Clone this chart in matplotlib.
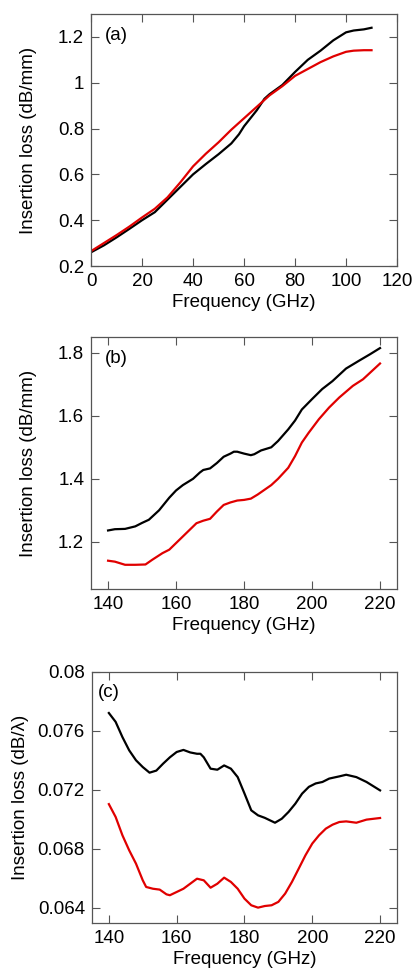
import matplotlib
matplotlib.use("Agg")
import matplotlib.pyplot as plt

plt.rcParams['font.family'] = ['Liberation Sans', 'DejaVu Sans']

# (a) 0-110 GHz, dB/mm
freq_a = [0, 5, 10, 15, 20, 25, 30, 35, 40, 45, 50, 55, 58, 60, 65, 68, 70, 75,
          80, 85, 90, 95, 100, 103, 107, 110]
black_a = [0.26, 0.29, 0.325, 0.362, 0.40, 0.435, 0.49, 0.545, 0.60, 0.645, 0.688,
           0.735, 0.775, 0.81, 0.88, 0.93, 0.95, 0.99, 1.047, 1.10, 1.14, 1.185,
           1.22, 1.228, 1.233, 1.24]
red_a = [0.265, 0.30, 0.335, 0.372, 0.412, 0.45, 0.50, 0.565, 0.635, 0.69, 0.74,
         0.795, 0.825, 0.845, 0.895, 0.925, 0.945, 0.985, 1.03, 1.06, 1.09, 1.115,
         1.135, 1.14, 1.142, 1.142]

# (b) 140-220 GHz, dB/mm
freq_b = [140, 142, 145, 148, 150, 152, 155, 158, 160, 162, 165, 167, 168, 170,
          172, 174, 176, 177, 178, 180, 182, 183, 185, 188, 190, 193, 195, 197,
          200, 203, 206, 210, 214, 217, 220]
black_b = [1.236, 1.240, 1.241, 1.249, 1.26, 1.27, 1.30, 1.34, 1.363, 1.38, 1.40,
           1.42, 1.428, 1.433, 1.45, 1.47, 1.48, 1.486, 1.486, 1.48, 1.475, 1.478,
           1.49, 1.50, 1.52, 1.557, 1.585, 1.62, 1.653, 1.685, 1.71, 1.75, 1.776,
           1.795, 1.815]
freq_b2 = [140, 142, 145, 148, 151, 153, 156, 158, 160, 162, 164, 166, 168, 170,
           172, 174, 176, 178, 180, 182, 184, 186, 188, 190, 193, 195, 197, 199,
           202, 205, 208, 212, 215, 218, 220]
red_b = [1.14, 1.137, 1.127, 1.127, 1.128, 1.143, 1.164, 1.175, 1.196, 1.217,
         1.238, 1.259, 1.267, 1.273, 1.296, 1.317, 1.325, 1.331, 1.333, 1.337,
         1.35, 1.365, 1.38, 1.40, 1.435, 1.472, 1.515, 1.546, 1.589, 1.626, 1.658,
         1.695, 1.716, 1.746, 1.766]

# (c) 140-220 GHz, dB/lambda
freq_c = [140, 142, 144, 146, 148, 150, 152, 154, 156, 158, 160, 162, 164, 166,
          167, 168, 170, 172, 174, 176, 178, 180, 182, 184, 186, 189, 191, 193,
          195, 197, 199, 201, 203, 205, 208, 210, 213, 216, 220]
black_c = [0.0772, 0.0766, 0.07557, 0.07467, 0.0740, 0.07354, 0.07316, 0.0733,
           0.07377, 0.0742, 0.07456, 0.0747, 0.07453, 0.07444, 0.07444, 0.0742,
           0.07343, 0.07336, 0.07365, 0.07343, 0.07286, 0.07175, 0.07061, 0.07027,
           0.0701, 0.06977, 0.07004, 0.0705, 0.07106, 0.07174, 0.0722, 0.07243,
           0.07253, 0.07276, 0.07291, 0.07302, 0.07286, 0.07253, 0.07196]
freq_c2 = [140, 142, 144, 146, 148, 150, 151, 153, 155, 157, 158, 160, 162, 164,
           166, 168, 170, 172, 174, 176, 178, 180, 182, 184, 186, 188, 190, 192,
           194, 196, 198, 200, 202, 204, 206, 208, 210, 213, 216, 220]
red_c = [0.07103, 0.07016, 0.06892, 0.0679, 0.067, 0.06587, 0.06542, 0.0653,
         0.06524, 0.06492, 0.06486, 0.06508, 0.0653, 0.06564, 0.06598, 0.06587,
         0.06537, 0.06564, 0.06605, 0.06576, 0.0653, 0.06463, 0.06418, 0.06402,
         0.06413, 0.06418, 0.06441, 0.06497, 0.06576, 0.06666, 0.06757, 0.06836,
         0.06892, 0.06937, 0.06964, 0.06982, 0.06986, 0.06977, 0.06998, 0.07009]

fig = plt.figure(figsize=(4.14, 9.73), dpi=100)
ax_a = fig.add_axes([0.220, 0.7266, 0.739, 0.259])
ax_b = fig.add_axes([0.220, 0.3946, 0.739, 0.259])
ax_c = fig.add_axes([0.222, 0.0517, 0.737, 0.258])

black = "black"
red = "#e00000"
fs = 13.5


def style(ax):
    for s in ax.spines.values():
        s.set_color("#555555")
        s.set_linewidth(0.9)
    ax.tick_params(direction="in", length=6, width=0.8, color="#555555",
                   top=True, right=True, labelsize=fs, pad=5)
    ax.set_xlabel("Frequency (GHz)", fontsize=fs, labelpad=3)


ax_a.plot(freq_a, black_a, color=black, lw=1.6)
ax_a.plot(freq_a, red_a, color=red, lw=1.6)
ax_a.set_xlim(0, 120)
ax_a.set_ylim(0.2, 1.3)
ax_a.set_xticks([0, 20, 40, 60, 80, 100, 120])
ax_a.set_yticks([0.2, 0.4, 0.6, 0.8, 1.0, 1.2])
ax_a.set_yticklabels(["0.2", "0.4", "0.6", "0.8", "1", "1.2"])
ax_a.set_ylabel("Insertion loss (dB/mm)", fontsize=fs, labelpad=15)
ax_a.text(0.045, 0.915, "(a)", transform=ax_a.transAxes, fontsize=fs, va="center")
style(ax_a)

ax_b.plot(freq_b, black_b, color=black, lw=1.6)
ax_b.plot(freq_b2, red_b, color=red, lw=1.6)
ax_b.set_xlim(135, 225)
ax_b.set_ylim(1.05, 1.85)
ax_b.set_xticks([140, 160, 180, 200, 220])
ax_b.set_yticks([1.2, 1.4, 1.6, 1.8])
ax_b.set_ylabel("Insertion loss (dB/mm)", fontsize=fs, labelpad=15)
ax_b.text(0.045, 0.915, "(b)", transform=ax_b.transAxes, fontsize=fs, va="center")
style(ax_b)

ax_c.plot(freq_c, black_c, color=black, lw=1.6)
ax_c.plot(freq_c2, red_c, color=red, lw=1.6)
ax_c.set_xlim(135, 225)
ax_c.set_ylim(0.063, 0.08)
ax_c.set_xticks([140, 160, 180, 200, 220])
ax_c.set_yticks([0.064, 0.068, 0.072, 0.076, 0.08])
ax_c.set_yticklabels(["0.064", "0.068", "0.072", "0.076", "0.08"])
ax_c.set_ylabel("Insertion loss (dB/\u03bb)", fontsize=fs, labelpad=6)
ax_c.text(0.02, 0.915, "(c)", transform=ax_c.transAxes, fontsize=fs, va="center")
style(ax_c)

fig.savefig("out.png", dpi=100)
